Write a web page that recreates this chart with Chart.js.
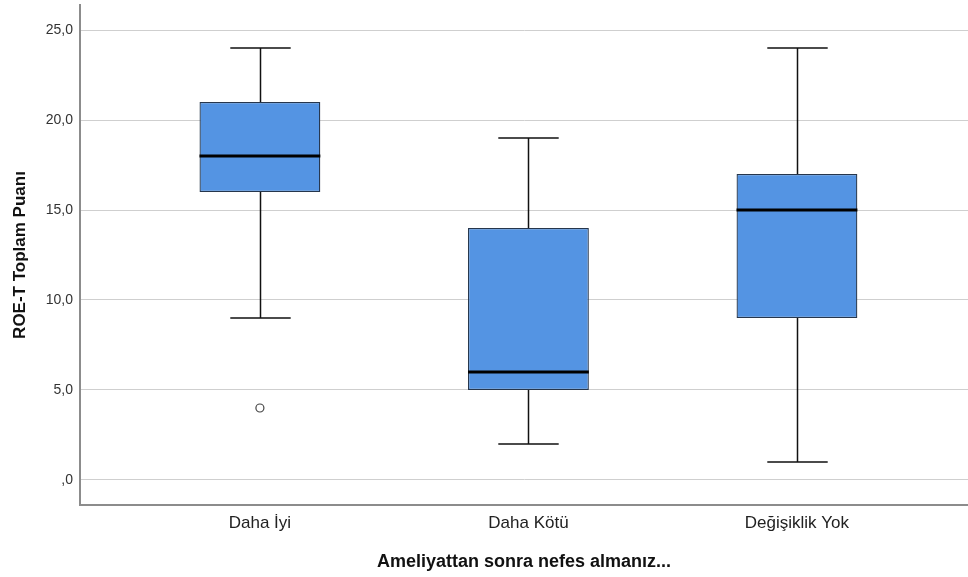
<!DOCTYPE html>
<html>
<head>
<meta charset="utf-8">
<script src="https://cdn.jsdelivr.net/npm/chart.js@4/dist/chart.umd.min.js"></script>
<style>
  html, body { margin: 0; padding: 0; background: #fff; }
  #wrap { width: 968px; height: 577px; }
</style>
</head>
<body>
<div id="wrap"><canvas id="myChart" width="968" height="577"></canvas></div>
<script>
// veriler
const categories = ['Daha İyi', 'Daha Kötü', 'Değişiklik Yok'];
const whiskerMin = [9, 2, 1];
const q1 = [16, 5, 9];
const median = [18, 6, 15];
const q3 = [21, 14, 17];
const whiskerMax = [24, 19, 24];
const outliers = [{ cat: 0, value: 4 }];
const yTicks = [0, 5, 10, 15, 20, 25];

const FONT = '"Liberation Sans", Arial, sans-serif';

// kutular: Q1-Q3 arası yüzen çubuklar
const boxData = categories.map((c, i) => ({ x: i + 1, y: [q1[i], q3[i]] }));
const outlierData = outliers.map(o => ({ x: o.cat + 1, y: o.value }));

// bıyıklar ve medyan çizgileri
const boxPlotLines = {
    id: 'boxPlotLines',
    beforeDatasetsDraw(chart) {
        const ctx = chart.ctx;
        const xs = chart.scales.x;
        const ys = chart.scales.y;
        const meta = chart.getDatasetMeta(0);
        ctx.save();
        ctx.strokeStyle = '#111';
        ctx.lineWidth = 1.5;
        categories.forEach((c, i) => {
            const bar = meta.data[i];
            const cx = Math.round(xs.getPixelForValue(i + 1)) + 0.5;
            const half = bar.width / 4;
            const yMin = ys.getPixelForValue(whiskerMin[i]);
            const yMax = ys.getPixelForValue(whiskerMax[i]);
            ctx.beginPath();
            ctx.moveTo(cx, yMin);
            ctx.lineTo(cx, ys.getPixelForValue(q1[i]));
            ctx.moveTo(cx, ys.getPixelForValue(q3[i]));
            ctx.lineTo(cx, yMax);
            ctx.moveTo(cx - half, yMin);
            ctx.lineTo(cx + half, yMin);
            ctx.moveTo(cx - half, yMax);
            ctx.lineTo(cx + half, yMax);
            ctx.stroke();
        });
        ctx.restore();
    },
    afterDatasetsDraw(chart) {
        const ctx = chart.ctx;
        const ys = chart.scales.y;
        const meta = chart.getDatasetMeta(0);
        ctx.save();
        ctx.strokeStyle = '#000';
        ctx.lineWidth = 3;
        categories.forEach((c, i) => {
            const bar = meta.data[i];
            const y = ys.getPixelForValue(median[i]);
            ctx.beginPath();
            ctx.moveTo(bar.x - bar.width / 2, y);
            ctx.lineTo(bar.x + bar.width / 2, y);
            ctx.stroke();
        });
        ctx.restore();
    }
};

const config = {
    type: 'bar',
    data: {
        datasets: [{
            type: 'bar',
            data: boxData,
            backgroundColor: '#5494e3',
            borderColor: '#26364c',
            borderWidth: 1.3,
            borderSkipped: false,
            barPercentage: 0.45,
            categoryPercentage: 1
        }, {
            type: 'scatter',
            data: outlierData,
            pointStyle: 'circle',
            pointRadius: 4,
            pointBackgroundColor: '#fff',
            pointBorderColor: '#444',
            pointBorderWidth: 1.2
        }]
    },
    options: {
        responsive: false,
        animation: false,
        layout: { autoPadding: false, padding: { top: 5, right: 0, left: 0, bottom: 0 } },
        plugins: {
            legend: { display: false },
            tooltip: { enabled: false }
        },
        scales: {
            x: {
                type: 'linear',
                offset: false,
                min: 0.33,
                max: 3.637,
                afterBuildTicks(scale) {
                    scale.ticks = categories.map((c, i) => ({ value: i + 1 }));
                },
                afterFit(scale) {
                    scale.height = 72;
                    scale.paddingLeft = 0;
                    scale.paddingRight = 0;
                },
                grid: { display: false, drawTicks: false },
                border: { display: true, color: '#8c8c8c', width: 2 },
                ticks: {
                    callback: (v) => categories[v - 1],
                    autoSkip: false,
                    maxRotation: 0,
                    padding: 8,
                    color: '#222',
                    font: { family: FONT, size: 17 }
                },
                title: {
                    display: true,
                    text: 'Ameliyattan sonra nefes almanız...',
                    color: '#111',
                    font: { family: FONT, size: 18, weight: 'bold' },
                    padding: { top: 0, bottom: 4 }
                }
            },
            y: {
                min: -1.39,
                max: 26.39,
                afterBuildTicks(scale) {
                    scale.ticks = yTicks.map(v => ({ value: v }));
                },
                afterFit(scale) {
                    scale.width = 80;
                    scale.paddingTop = 0;
                    scale.paddingBottom = 0;
                },
                grid: { color: '#cfcfcf', lineWidth: 1, drawTicks: false },
                border: { display: true, color: '#8c8c8c', width: 2 },
                ticks: {
                    callback: (v) => (v === 0 ? ',0' : v.toFixed(1).replace('.', ',')),
                    padding: 7,
                    color: '#333',
                    font: { family: FONT, size: 14 }
                },
                title: {
                    display: true,
                    text: 'ROE-T Toplam Puanı',
                    color: '#111',
                    font: { family: FONT, size: 17, weight: 'bold' },
                    padding: { top: 10, bottom: 0 }
                }
            }
        }
    },
    plugins: [boxPlotLines]
};

new Chart(document.getElementById('myChart'), config);
</script>
</body>
</html>
